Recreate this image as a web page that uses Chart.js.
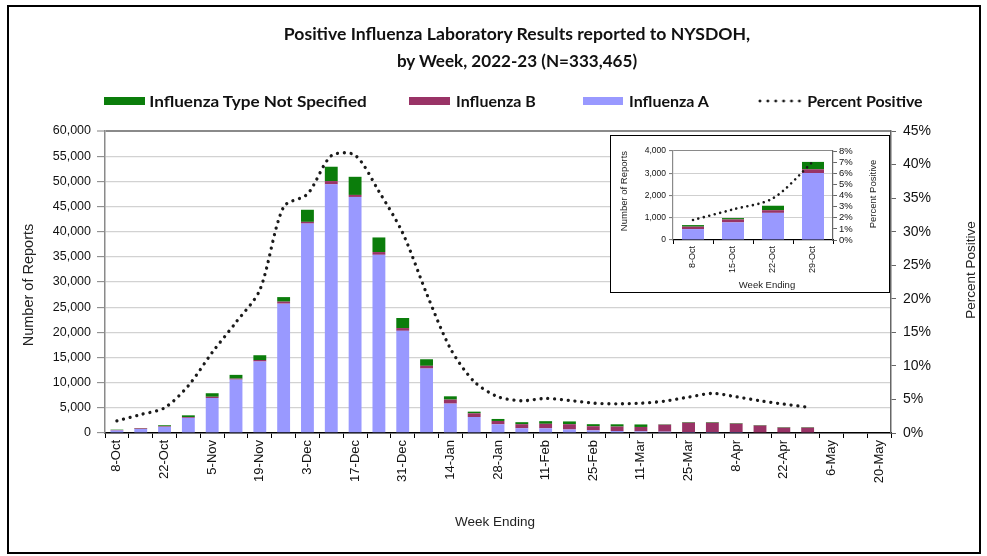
<!DOCTYPE html>
<html>
<head>
<meta charset="utf-8">
<script src="https://cdn.jsdelivr.net/npm/chart.js@4/dist/chart.umd.min.js"></script>
<style>
html,body{margin:0;padding:0;background:#fff;}
#wrap{position:relative;width:987px;height:556px;overflow:hidden;background:#fff;}
#frame{position:absolute;left:7px;top:5px;width:974px;height:549px;border:2.5px solid #000;box-sizing:border-box;pointer-events:none;}
#main{position:absolute;left:0;top:0;}
#insetBox{position:absolute;left:610px;top:135px;width:280px;height:158px;background:#fff;}
#insetBorder{position:absolute;left:610px;top:135px;width:280px;height:158px;border:1.5px solid #000;box-sizing:border-box;pointer-events:none;}
#inset{position:absolute;left:610px;top:135px;}
.t{position:absolute;white-space:nowrap;line-height:1;}
.sw{position:absolute;}
</style>
</head>
<body>
<div id="wrap">
  <canvas id="main" width="987" height="556"></canvas>
  <div id="insetBox"></div>
  <canvas id="inset" width="280" height="158"></canvas>
  <div id="insetBorder"></div>
  <div id="frame"></div>
</div>
<script>
// ---------------- DATA ----------------
const weeks = ['8-Oct','15-Oct','22-Oct','29-Oct','5-Nov','12-Nov','19-Nov','26-Nov','3-Dec','10-Dec',
  '17-Dec','24-Dec','31-Dec','7-Jan','14-Jan','21-Jan','28-Jan','4-Feb','11-Feb','18-Feb',
  '25-Feb','4-Mar','11-Mar','18-Mar','25-Mar','1-Apr','8-Apr','15-Apr','22-Apr','29-Apr',
  '6-May','13-May','20-May'];
const fluA = [490, 790, 1220, 3010, 6950, 10600, 14200, 25700, 41600, 49400,
  46900, 35400, 20300, 12800, 5840, 3180, 1720, 950, 930, 700,
  520, 400, 330, 260, 200, 200, 200, 130, 120, 120,
  null, null, null];
const fluB = [110, 135, 120, 170, 250, 200, 300, 400, 350, 650,
  400, 550, 550, 550, 800, 730, 670, 800, 900, 1050,
  830, 880, 870, 1390, 1850, 1850, 1660, 1350, 950, 950,
  null, null, null];
const fluNS = [70, 60, 200, 330, 700, 750, 950, 900, 2400, 2850,
  3600, 2900, 2000, 1300, 650, 330, 400, 400, 520, 550,
  400, 450, 500, 80, 120, 120, 110, 100, 100, 100,
  null, null, null];
const pctPositive = [1.8, 2.75, 3.75, 7.05, 12.0, 16.5, 21.3, 33.7, 35.6, 41.3,
  41.4, 36.0, 29.8, 20.8, 12.6, 7.65, 5.4, 4.8, 5.15, 4.85,
  4.45, 4.35, 4.45, 4.75, 5.35, 5.9, 5.4, 4.8, 4.3, 3.85,
  null, null, null];
const reportTicks = {min: 0, max: 60000, step: 5000};
const pctTicks = {min: 0, max: 45, step: 5};
// inset: first four weeks of the season
const insetWeeks = weeks.slice(0, 4);
const insetA = fluA.slice(0, 4);
const insetB = fluB.slice(0, 4);
const insetNS = fluNS.slice(0, 4);
const insetPct = pctPositive.slice(0, 4);
const insetReportTicks = {min: 0, max: 4000, step: 1000};
const insetPctTicks = {min: 0, max: 8, step: 1};

const titleLines = ['Positive Influenza Laboratory Results reported to NYSDOH,', 'by Week, 2022-23 (N=333,465)'];
const seriesNames = {ns: 'Influenza Type Not Specified', b: 'Influenza B', a: 'Influenza A', pct: 'Percent Positive'};

// ---------------- STYLE ----------------
const COL_A = '#9999ff', COL_B = '#993366', COL_NS = '#0b7d0b', COL_LINE = '#1a1a1a';
const AX = "'Liberation Sans', Arial, sans-serif";
const fmt = v => v.toLocaleString('en-US');

// ---------------- MAIN CHART ----------------
new Chart(document.getElementById('main'), {
  data: {
    labels: weeks,
    datasets: [
      {type: 'line', label: seriesNames.pct, data: pctPositive, yAxisID: 'y1', borderColor: COL_LINE,
        borderWidth: 3.3, borderDash: [0.01, 6.8], borderCapStyle: 'round', pointRadius: 0,
        tension: 0.28, fill: false, order: 0},
      {type: 'bar', label: seriesNames.a, data: fluA, backgroundColor: COL_A, yAxisID: 'y', order: 1,
        barPercentage: 0.54, categoryPercentage: 1},
      {type: 'bar', label: seriesNames.b, data: fluB, backgroundColor: COL_B, yAxisID: 'y', order: 1,
        barPercentage: 0.54, categoryPercentage: 1},
      {type: 'bar', label: seriesNames.ns, data: fluNS, backgroundColor: COL_NS, yAxisID: 'y', order: 1,
        barPercentage: 0.54, categoryPercentage: 1}
    ]
  },
  options: {
    responsive: false, animation: false,
    layout: {padding: {top: 131, left: 0, right: 0, bottom: 0}},
    plugins: {legend: {display: false}, tooltip: {enabled: false}, title: {display: false}},
    scales: {
      x: {
        stacked: true, offset: true,
        grid: {offset: true, drawOnChartArea: false, drawTicks: true, tickLength: 5, color: '#000', lineWidth: 1},
        border: {color: '#000', width: 1.5},
        ticks: {autoSkip: false, maxRotation: 90, minRotation: 90, padding: 2,
          font: {family: AX, size: 13}, color: '#111',
          callback: (v, i) => (i % 2 === 0 ? weeks[i] : '')},
        afterFit: s => { s.height = 123; }
      },
      y: {
        stacked: true, position: 'left', min: reportTicks.min, max: reportTicks.max,
        grid: {color: c => (c.tick && c.tick.value === reportTicks.max ? '#8a8a8a' : '#d2d2d2'),
          lineWidth: c => (c.tick && c.tick.value === reportTicks.max ? 2 : 1.3),
          tickColor: '#808080', tickLength: 8, tickWidth: 1},
        border: {color: '#8a8a8a', width: 1.5},
        ticks: {stepSize: reportTicks.step, autoSkip: false, padding: 6, font: {family: AX, size: 12.5}, color: '#111',
          callback: v => fmt(v)},
        afterFit: s => { s.width = 105; }
      },
      y1: {
        position: 'right', min: pctTicks.min, max: pctTicks.max,
        grid: {drawOnChartArea: false, tickLength: 5, color: '#666', tickWidth: 1},
        border: {color: '#666', width: 1.5},
        ticks: {stepSize: pctTicks.step, autoSkip: false, padding: 7, font: {family: AX, size: 14}, color: '#111',
          callback: v => v + '%'},
        afterFit: s => { s.width = 96; }
      }
    }
  }
});

// ---------------- INSET CHART ----------------
new Chart(document.getElementById('inset'), {
  data: {
    labels: insetWeeks,
    datasets: [
      {type: 'line', label: seriesNames.pct, data: insetPct, yAxisID: 'y1', borderColor: COL_LINE,
        borderWidth: 2.6, borderDash: [0.01, 5.6], borderCapStyle: 'round', pointRadius: 0,
        tension: 0.3, fill: false, order: 0},
      {type: 'bar', label: seriesNames.a, data: insetA, backgroundColor: COL_A, order: 1,
        barPercentage: 0.55, categoryPercentage: 1},
      {type: 'bar', label: seriesNames.b, data: insetB, backgroundColor: COL_B, order: 1,
        barPercentage: 0.55, categoryPercentage: 1},
      {type: 'bar', label: seriesNames.ns, data: insetNS, backgroundColor: COL_NS, order: 1,
        barPercentage: 0.55, categoryPercentage: 1}
    ]
  },
  options: {
    responsive: false, animation: false,
    layout: {padding: {top: 16, left: 0, right: 0, bottom: 0}},
    plugins: {legend: {display: false}, tooltip: {enabled: false}},
    scales: {
      x: {
        stacked: true, offset: true,
        grid: {offset: true, drawOnChartArea: false, tickLength: 4, color: '#000', lineWidth: 1},
        border: {color: '#000', width: 1.2},
        ticks: {autoSkip: false, maxRotation: 90, minRotation: 90, padding: 2,
          font: {family: AX, size: 9}, color: '#111'},
        afterFit: s => { s.height = 53; }
      },
      y: {
        stacked: true, min: insetReportTicks.min, max: insetReportTicks.max,
        grid: {color: c => (c.tick && c.tick.value === insetReportTicks.max ? '#8a8a8a' : '#cfcfcf'),
          lineWidth: 1.1, tickColor: '#808080', tickLength: 4},
        border: {color: '#8a8a8a', width: 1.2},
        ticks: {stepSize: insetReportTicks.step, autoSkip: false, padding: 3, font: {family: AX, size: 8.5}, color: '#111',
          callback: v => fmt(v)},
        afterFit: s => { s.width = 63; }
      },
      y1: {
        position: 'right', min: insetPctTicks.min, max: insetPctTicks.max,
        grid: {drawOnChartArea: false, tickLength: 4, color: '#666'},
        border: {color: '#666', width: 1.2},
        ticks: {stepSize: insetPctTicks.step, autoSkip: false, padding: 2, font: {family: AX, size: 9.5}, color: '#111',
          callback: v => v + '%'},
        afterFit: s => { s.width = 57; }
      }
    }
  }
});

// ---------------- HTML TEXT / LEGEND ----------------
const wrap = document.getElementById('wrap');
const LEG = 'Lato, "Open Sans", sans-serif';
function txt(s, cx, cy, font, opt) {
  opt = opt || {};
  const el = document.createElement('div');
  el.className = 't';
  el.textContent = s;
  el.style.font = font;
  el.style.color = opt.color || '#111';
  el.style.left = cx + 'px';
  el.style.top = cy + 'px';
  wrap.appendChild(el);
  let sx = 1;
  if (opt.w) sx = opt.w / el.offsetWidth;
  el.style.transform = 'translate(-50%,-50%)' + (opt.rot ? ' rotate(' + opt.rot + 'deg)' : '') + ' scaleX(' + sx + ')';
  return el;
}
function box(x1, y1, x2, y2, col) {
  const el = document.createElement('div');
  el.className = 'sw';
  el.style.left = x1 + 'px'; el.style.top = y1 + 'px';
  el.style.width = (x2 - x1) + 'px'; el.style.height = (y2 - y1) + 'px';
  el.style.background = col;
  wrap.insertBefore(el, document.getElementById('frame'));
  return el;
}
function build() {
  txt(titleLines[0], 517, 33, '700 17px ' + LEG, {w: 466});
  txt(titleLines[1], 517, 60, '700 17px ' + LEG, {w: 240});
  // legend
  box(104, 97, 145, 105, COL_NS);
  txt(seriesNames.ns, 257.5, 101, '700 15px ' + LEG, {w: 217});
  box(409, 97, 450, 105, COL_B);
  txt(seriesNames.b, 495.5, 101, '700 15px ' + LEG, {w: 80});
  box(583, 97, 623, 105, COL_A);
  txt(seriesNames.a, 669, 101, '700 15px ' + LEG, {w: 80});
  const d = box(756, 99, 804, 103, 'transparent');
  d.style.background = 'radial-gradient(circle, #1a1a1a 1.3px, transparent 1.7px) 0 0/7.9px 4px repeat-x';
  txt(seriesNames.pct, 864.5, 101, '700 15px ' + LEG, {w: 115});
  // axis titles
  txt('Number of Reports', 28, 285, '14.5px ' + AX, {rot: -90, color: '#222'});
  txt('Percent Positive', 970, 270, '13.5px ' + AX, {rot: -90, color: '#222'});
  txt('Week Ending', 495, 521, '13.5px ' + AX, {color: '#222'});
  // inset titles
  txt('Number of Reports', 623, 191, '9.5px ' + AX, {rot: -90, color: '#222'});
  txt('Percent Positive', 872, 194, '9.5px ' + AX, {rot: -90, color: '#222'});
  txt('Week Ending', 767, 284, '9.5px ' + AX, {color: '#222'});
}
if (document.fonts && document.fonts.ready) document.fonts.ready.then(build); else build();
</script>
</body>
</html>
